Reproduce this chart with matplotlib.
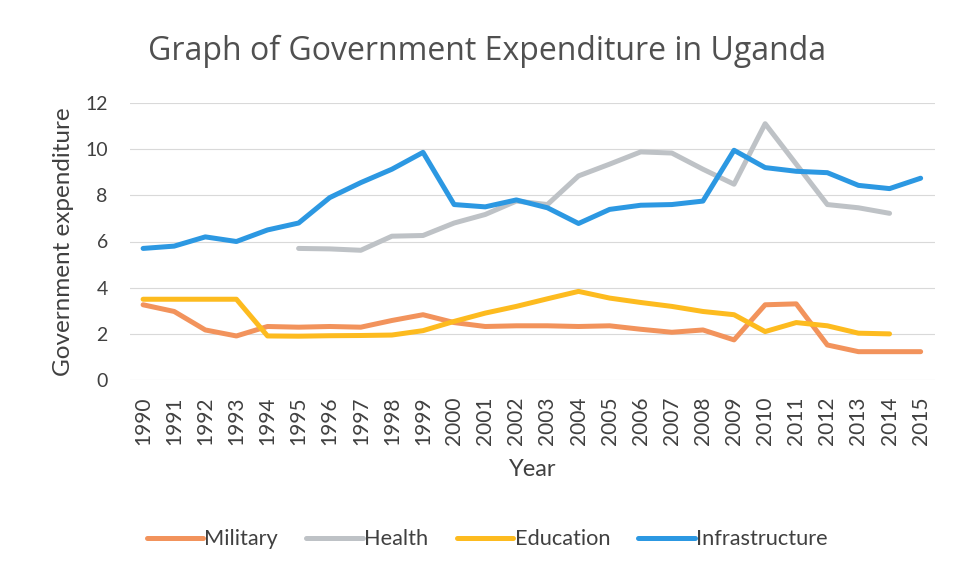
import matplotlib.pyplot as plt
import numpy as np

plt.rcParams['font.family'] = ['Lato', 'DejaVu Sans']

years = [str(y) for y in range(1990, 2016)]

military = [3.26, 2.97, 2.17, 1.91, 2.32, 2.29, 2.32, 2.29, 2.58, 2.83,
            2.49, 2.32, 2.35, 2.35, 2.32, 2.35, 2.2, 2.07, 2.17, 1.74,
            3.26, 3.3, 1.52, 1.23, 1.23, 1.23]
health = [None, None, None, None, None, 5.7, 5.68, 5.62, 6.23, 6.26,
          6.8, 7.17, 7.75, 7.6, 8.84, 9.35, 9.88, 9.83, 9.13, 8.48,
          11.1, 9.35, 7.6, 7.46, 7.22, None]
education = [3.5, 3.5, 3.5, 3.5, 1.91, 1.9, 1.92, 1.93, 1.95, 2.14,
             2.54, 2.9, 3.19, 3.52, 3.84, 3.55, 3.36, 3.19, 2.97, 2.83,
             2.1, 2.49, 2.35, 2.03, 2.0, None]
infrastructure = [5.7, 5.8, 6.2, 6.0, 6.5, 6.8, 7.9, 8.55, 9.13, 9.86,
                  7.6, 7.5, 7.8, 7.46, 6.78, 7.39, 7.57, 7.6, 7.75, 9.95,
                  9.2, 9.04, 8.98, 8.43, 8.29, 8.74]

series = [("Military", military, "#F2935C"),
          ("Health", health, "#BEC2C6"),
          ("Education", education, "#FDBB1F"),
          ("Infrastructure", infrastructure, "#2C98E2")]

fig = plt.figure(figsize=(9.59, 5.75), dpi=100)
ax = fig.add_axes([0.1356, 0.339, 0.839, 0.482])

x = np.arange(len(years))
for name, vals, col in series:
    y = np.array([np.nan if v is None else v for v in vals], dtype=float)
    ax.plot(x, y, color=col, lw=3.6, label=name, solid_capstyle='round',
            solid_joinstyle='round')

ax.set_xlim(-0.42, len(years) - 0.55)
ax.set_ylim(0, 12)
ax.set_yticks(range(0, 13, 2))
ax.set_xticks(x)
ax.set_xticklabels(years, rotation=90)
ax.tick_params(axis='both', length=0, labelcolor='#404040')
ax.tick_params(axis='y', pad=16, labelsize=14)
ax.tick_params(axis='x', pad=12, labelsize=15)
ax.grid(axis='y', color='#D9D9D9', lw=0.8)
ax.set_axisbelow(True)
for s in ax.spines.values():
    s.set_visible(False)

ax.set_xlabel("Year", fontsize=17, color='#404040')
ax.set_ylabel("Government expenditure", fontsize=17.5, color='#404040')
ax.xaxis.set_label_coords(0.5, -0.285)
ax.yaxis.set_label_coords(-0.07, 0.5)
fig.text(0.508, 0.91, "Graph of Government Expenditure in Uganda",
         ha='center', va='center', fontsize=23, color='#505050',
         family=['Open Sans', 'DejaVu Sans'])

fig.legend(loc='center', bbox_to_anchor=(0.508, 0.062), ncol=4, frameon=False,
           fontsize=15.7, handlelength=2.6, handletextpad=0.05, columnspacing=1.3,
           labelcolor='#404040')

fig.savefig("out.png", dpi=100)
